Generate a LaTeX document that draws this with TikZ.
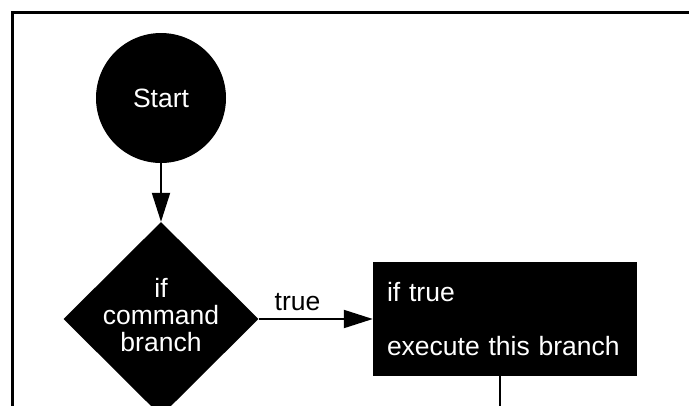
\documentclass[tikz,border=0pt]{standalone}
\usepackage{fontspec}
\setmainfont{Liberation Sans}
\usetikzlibrary{shapes.geometric,arrows.meta}

\tikzset{
  chartfont/.style={font=\fontsize{26.5}{27}\selectfont},
  startnode/.style={circle, fill=black, text=white, minimum size=130pt, inner sep=0pt, chartfont},
  decision/.style={diamond, fill=black, minimum width=195pt, minimum height=194pt, inner sep=0pt},
  actionbox/.style={rectangle, fill=black, text=white, minimum width=264pt, minimum height=114pt,
    text width=236pt, inner xsep=14pt, align=left, chartfont},
  flow/.style={line width=2pt, -{Triangle[length=29pt,width=18pt]}},
  plainline/.style={line width=2pt},
  frameline/.style={line width=3pt},
}

\begin{document}
\begin{tikzpicture}[x=1pt,y=-1pt]
  \useasboundingbox (0,0) rectangle (689,405);
  \clip (0,0) rectangle (689,405);

  % outer frame (left and top edges)
  \coordinate (framebl) at (12,420);
  \coordinate (frametl) at (12,12.5);
  \coordinate (frametr) at (700,12.5);
  \draw[frameline] (framebl) -- (frametl) -- (frametr);

  % flowchart elements
  \node[startnode] (start) at (161,98) {Start};
  \node[decision] (dec) at (161,319) {};
  \node[white, align=center, chartfont] (dectext) at (161,315) {if\\command\\branch};
  \node[actionbox] (act) at (505,319) {if true\\[27pt]execute this branch};
  \coordinate (below) at (500,420);

  % connectors
  \draw[flow] (start.south) -- (dec.north);
  \draw[flow] (dec.east) -- node[pos=0.34, above=4pt, chartfont] {true} (act.west);
  \draw[plainline] (act.south -| below) -- (below);
\end{tikzpicture}
\end{document}
